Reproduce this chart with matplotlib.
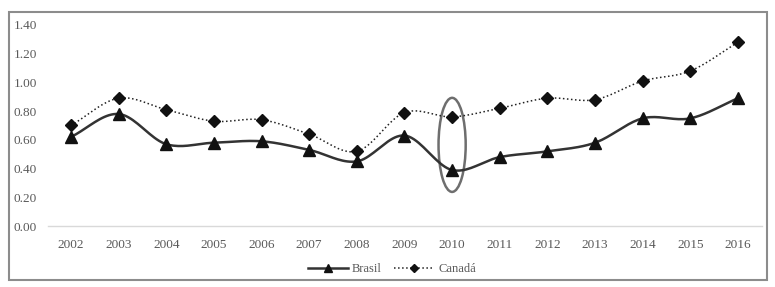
import numpy as np
import matplotlib
matplotlib.use("Agg")
import matplotlib.pyplot as plt
from matplotlib.patches import Ellipse, Rectangle

years = [2002, 2003, 2004, 2005, 2006, 2007, 2008, 2009,
         2010, 2011, 2012, 2013, 2014, 2015, 2016]
brasil = [0.62, 0.78, 0.57, 0.58, 0.59, 0.53, 0.45, 0.63,
          0.39, 0.48, 0.52, 0.58, 0.75, 0.75, 0.89]
canada = [0.70, 0.89, 0.81, 0.73, 0.74, 0.64, 0.52, 0.79,
          0.76, 0.82, 0.89, 0.88, 1.01, 1.08, 1.28]
yticks = [0.0, 0.2, 0.4, 0.6, 0.8, 1.0, 1.2, 1.4]


def smooth(x, y, n=20):
    # catmull-rom style curve through the points (like Excel smoothed lines)
    x = np.asarray(x, float)
    y = np.asarray(y, float)
    px = np.concatenate([[2 * x[0] - x[1]], x, [2 * x[-1] - x[-2]]])
    py = np.concatenate([[2 * y[0] - y[1]], y, [2 * y[-1] - y[-2]]])
    xs, ys = [], []
    t = np.linspace(0, 1, n, endpoint=False)
    for i in range(1, len(px) - 2):
        for p, out in ((px, xs), (py, ys)):
            p0, p1, p2, p3 = p[i - 1], p[i], p[i + 1], p[i + 2]
            out.extend(0.5 * ((2 * p1) + (-p0 + p2) * t
                              + (2 * p0 - 5 * p1 + 4 * p2 - p3) * t ** 2
                              + (-p0 + 3 * p1 - 3 * p2 + p3) * t ** 3))
    xs.append(x[-1])
    ys.append(y[-1])
    return np.array(xs), np.array(ys)


plt.rcParams['font.family'] = ['Liberation Serif', 'DejaVu Serif']
grey = '#595959'

fig = plt.figure(figsize=(7.75, 2.87), dpi=100)
fig.patches.append(Rectangle((9 / 775, 7 / 287), 758 / 775, 268 / 287,
                             transform=fig.transFigure, fill=False,
                             edgecolor='#8c8c8c', linewidth=1.5))

ax = fig.add_axes([0.062, 0.2125, 0.921, 0.7005])
x = np.arange(len(years))

bx, by = smooth(x, brasil)
cx, cy = smooth(x, canada)
ax.plot(cx, cy, color='#222222', linestyle=':', linewidth=1.1)
ax.plot(x, canada, linestyle='none', marker='D', markersize=6.5,
        color='#111111')
ax.plot(bx, by, color='#333333', linewidth=1.8)
ax.plot(x, brasil, linestyle='none', marker='^', markersize=8,
        color='#111111')

# legend handles
ax.plot([], [], color='#333333', linewidth=1.8, marker='^', markersize=6,
        markerfacecolor='#111111', markeredgecolor='#111111', label='Brasil')
ax.plot([], [], color='#222222', linestyle=':', linewidth=1.1, marker='D',
        markersize=4.5, markerfacecolor='#111111', markeredgecolor='#111111',
        label='Canadá')
handles, labels = ax.get_legend_handles_labels()
ax.legend(handles[-2:], labels[-2:], loc='upper center',
          bbox_to_anchor=(0.482, -0.13), ncol=2, frameon=False,
          fontsize=9, labelcolor=grey, handlelength=3.2, columnspacing=1.0,
          handletextpad=0.3)

ax.add_patch(Ellipse((8, 0.565), 0.57, 0.655, fill=False,
                     edgecolor='#6e6e6e', linewidth=1.8))

ax.set_xlim(-0.48, len(years) - 0.5)
ax.set_ylim(0, 1.4)
ax.set_xticks(x)
ax.set_xticklabels([str(v) for v in years])
ax.set_yticks(yticks)
ax.set_yticklabels(['%.2f' % v for v in yticks])
ax.tick_params(length=0, labelsize=9.5, colors=grey)
ax.tick_params(axis='y', pad=8)
ax.tick_params(axis='x', pad=9)
for s in ['top', 'right', 'left']:
    ax.spines[s].set_visible(False)
ax.spines['bottom'].set_color('#d9d9d9')
ax.spines['bottom'].set_linewidth(1)

fig.savefig('out.png', dpi=100)
